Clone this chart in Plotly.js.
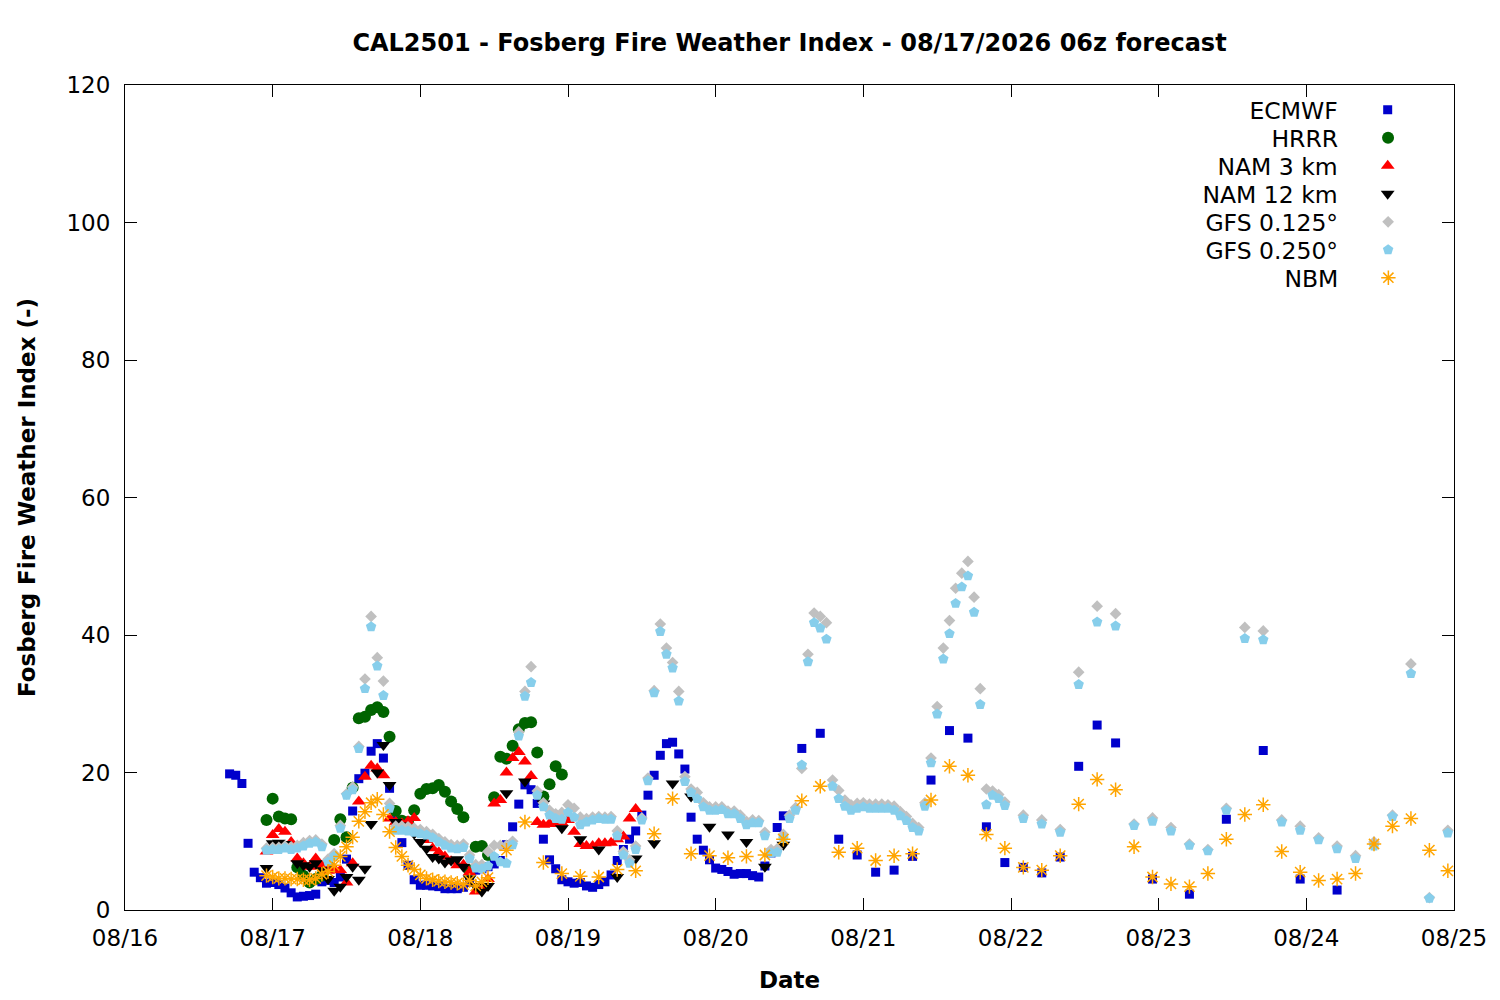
<!DOCTYPE html>
<html>
<head>
<meta charset="utf-8">
<script src="https://cdn.plot.ly/plotly-3.0.1.min.js"></script>
<style>
  body { margin: 0; background: #fff; }
  #myDiv { width: 1500px; height: 1000px; }
</style>
</head>
<body>
<div id="myDiv"></div>
<script>
// hours counted from 08/16 00:00 (local time)
var ecmwfHours = [17,18,19,20,21,22,23,24,25,26,27,28,29,30,31,32,33,34,35,36,37,38,39,40,41,42,43,44,45,46,47,
  48,49,50,51,52,53,54,55,56,57,58,59,60,61,62,63,64,65,66,67,68,69,70,71,72,73,74,75,76,77,
  78,79,80,81,82,83,84,85,86,87,88,89,90,91,92,93,94,95,96,97,98,99,100,101,102,103,104,105,106,107,
  110,113,116,119,122,125,128,131,134,137,140,143,146,149,152,155,158,161,
  167,173,179,185,191,197];
var ecmwfValues = [19.8,19.6,18.4,9.7,5.5,4.7,3.9,4.0,3.7,3.2,2.5,1.9,2.0,2.1,2.3,4.1,4.3,4.0,4.8,7.4,14.4,19.1,19.9,23.1,24.2,22.1,17.7,13.0,9.8,6.5,4.4,
  3.6,3.6,3.5,3.4,3.1,3.1,3.1,3.3,4.0,5.8,6.0,6.3,6.7,7.2,9.5,12.1,15.4,18.2,17.5,15.5,10.3,7.3,6.0,4.4,4.1,3.9,4.0,3.5,3.3,3.7,
  4.1,5.1,7.2,8.8,10.3,11.5,13.8,16.7,19.6,22.5,24.2,24.4,22.7,20.5,13.5,10.3,8.7,7.3,6.1,5.9,5.6,5.2,5.3,5.3,5.0,4.8,6.4,8.3,12.0,13.7,
  23.5,25.7,10.3,8.0,5.5,5.8,7.8,18.9,26.1,25.0,12.1,6.9,6.2,5.4,7.7,20.9,26.9,24.3,
  4.5,2.3,13.2,23.2,4.5,2.9];

var hrrrHours = [23,24,25,26,27,28,29,30,31,32,33,34,35,36,37,38,39,40,41,42,43,44,45,46,47,
  48,49,50,51,52,53,54,55,56,57,58,59,60,61,62,63,64,65,66,67,68,69,70,71];
var hrrrValues = [13.1,16.2,13.6,13.3,13.2,6.2,5.0,4.0,4.5,5.0,6.5,10.2,13.2,10.6,17.8,27.9,28.1,29.1,29.5,28.8,25.2,14.4,13.0,12.8,14.5,
  16.9,17.6,17.7,18.2,17.2,15.8,14.7,13.5,5.8,9.2,9.3,8.0,16.4,22.3,22.0,23.9,26.3,27.2,27.3,22.9,16.5,18.3,20.9,19.7];

var nam3Hours = [23,24,25,26,27,28,29,30,31,32,33,34,35,36,37,38,39,40,41,42,43,44,45,46,47,
  48,49,50,51,52,53,54,55,56,57,58,59,60,61,62,63,64,65,66,67,68,69,70,71,
  72,73,74,75,76,77,78,79,80,81,82,83];
var nam3Values = [8.5,10.9,11.8,11.4,9.9,7.5,6.8,6.3,7.5,6.4,5.7,6.0,5.8,4.0,6.8,15.8,19.4,21.0,20.6,19.6,13.3,12.8,12.6,12.9,13.4,
  11.4,10.2,9.0,8.4,7.8,7.1,6.5,6.6,5.5,2.7,3.2,4.5,15.5,16.0,20.0,22.1,23.0,21.6,19.5,12.8,12.4,12.6,12.5,12.7,
  13.1,11.4,9.6,9.3,9.3,9.7,9.7,9.8,10.3,10.7,13.3,14.7];

var nam12Hours = [23,24,25,26,27,28,29,30,31,32,33,34,35,36,37,38,39,40,41,42,43,44,45,46,47,
  48,49,50,51,52,53,54,55,56,57,58,59,
  62,65,68,71,74,77,80,83,86,89,92,95,98,101,104,107];
var nam12Values = [6.1,9.7,9.8,9.6,9.3,6.8,6.5,6.3,6.8,5.8,4.5,2.8,3.4,4.8,6.3,4.4,6.0,12.5,20.0,24.0,18.2,12.8,12.3,11.8,11.1,
  9.9,8.9,7.7,7.5,6.9,7.2,7.4,6.3,4.6,3.5,2.7,3.5,
  17.0,18.7,15.5,11.9,10.3,8.8,4.8,7.5,9.7,18.4,16.5,12.1,11.0,9.9,6.3,9.5];

var gfsHours = [23,24,25,26,27,28,29,30,31,32,33,34,35,36,37,38,39,40,41,42,43,44,45,46,47,
  48,49,50,51,52,53,54,55,56,57,58,59,60,61,62,63,64,65,66,67,68,69,70,71,
  72,73,74,75,76,77,78,79,80,81,82,83,84,85,86,87,88,89,90,91,92,93,94,95,
  96,97,98,99,100,101,102,103,104,105,106,107,108,109,110,111,112,113,114,115,116,117,118,119,
  120,121,122,123,124,125,126,127,128,129,130,131,132,133,134,135,136,137,138,139,140,141,142,143,
  146,149,152,155,158,161,164,167,170,173,176,179,182,185,188,191,194,197,200,203,206,209,212,215];
var gfs125Values = [9.0,9.1,9.1,9.3,9.2,9.4,9.8,10.1,10.2,9.6,7.4,8.2,12.3,16.9,17.9,23.8,33.6,42.7,36.7,33.3,15.5,12.2,12.2,12.1,11.9,
  11.7,11.4,11.0,10.4,9.9,9.5,9.4,9.6,8.0,6.6,6.6,8.5,9.4,9.4,9.4,10.0,25.9,31.8,35.4,17.3,15.6,14.5,14.0,14.2,
  15.3,14.8,13.5,13.3,13.5,13.6,13.5,13.6,11.5,8.5,7.3,9.3,13.4,19.2,31.9,41.6,38.1,36.0,31.8,19.4,17.6,17.1,15.6,15.0,
  15.0,15.0,14.4,14.4,13.8,12.9,13.1,13.0,11.3,8.8,8.9,11.0,13.8,14.9,20.6,37.2,43.2,42.7,41.8,18.9,17.4,16.0,15.3,15.5,
  15.6,15.4,15.4,15.4,15.3,15.1,14.3,13.6,12.6,12.0,15.6,22.1,29.6,38.1,42.1,46.8,49.0,50.7,45.5,32.2,17.6,17.3,16.8,15.7,
  13.8,13.1,11.7,34.6,44.2,43.1,12.5,13.4,12.0,9.6,8.8,14.8,41.1,40.6,13.1,12.2,10.5,9.3,7.9,9.9,13.8,35.8,1.8,11.6];
var gfs250Values = [8.7,8.8,8.8,9.0,8.8,9.0,9.3,9.7,9.9,9.2,7.0,7.8,11.9,16.7,17.5,23.5,32.2,41.2,35.5,31.2,14.8,11.6,11.6,11.5,11.3,
  11.1,10.9,10.5,9.9,9.4,9.0,8.9,9.1,7.5,6.1,6.0,6.4,7.8,7.0,6.8,9.5,25.3,31.1,33.1,16.7,15.0,13.8,13.3,13.2,
  14.2,13.5,12.4,12.8,13.1,13.3,13.2,13.2,10.8,8.0,6.8,8.8,13.1,18.8,31.6,40.5,37.2,35.2,30.4,18.7,17.1,16.2,15.0,14.5,
  14.5,14.6,14.0,14.0,13.3,12.4,12.7,12.7,10.8,8.3,8.4,10.4,13.3,14.5,21.1,36.1,41.8,41.0,39.4,18.0,16.2,15.1,14.5,14.8,
  15.0,14.8,14.8,14.8,14.8,14.5,13.7,13.0,12.0,11.5,15.1,21.4,28.5,36.5,40.2,44.6,47.0,48.6,43.3,29.9,15.3,16.7,16.2,15.2,
  13.3,12.5,11.3,32.8,41.9,41.3,12.3,12.9,11.5,9.4,8.6,14.5,39.5,39.3,12.8,11.6,10.2,8.9,7.5,9.3,13.6,34.4,1.7,11.2];

var nbmHours = [23,24,25,26,27,28,29,30,31,32,33,34,35,36,37,38,39,40,41,42,43,44,45,46,47,
  48,49,50,51,52,53,54,55,56,57,58,59,
  62,65,68,71,74,77,80,83,86,89,92,95,98,101,104,107,110,113,116,119,122,125,128,131,134,137,140,143,
  146,149,152,155,158,161,164,167,170,173,176,179,182,185,188,191,194,197,200,203,206,209,212,215];
var nbmValues = [5.0,4.8,4.6,4.6,4.5,4.5,4.4,4.4,4.6,5.2,5.6,6.5,7.8,9.2,10.6,12.9,14.3,15.6,16.1,13.9,11.4,9.1,7.8,6.5,5.9,
  5.1,4.6,4.4,4.2,4.1,4.0,3.9,3.7,4.3,3.5,4.1,4.7,
  8.7,12.8,6.9,5.3,4.9,4.8,5.9,5.7,11.1,16.2,8.2,7.9,7.6,7.8,8.0,10.3,15.9,18.0,8.4,9.0,7.2,7.9,8.2,16.0,20.9,19.6,11.0,9.0,
  6.2,5.8,7.9,15.4,19.0,17.5,9.2,4.8,3.8,3.4,5.3,10.3,13.9,15.3,8.5,5.5,4.3,4.5,5.3,9.6,12.2,13.3,8.7,5.7];

function toDates(hours) {
  return hours.map(function (h) {
    return new Date(Date.UTC(2026, 7, 16) + h * 3600000).toISOString().slice(0, 19);
  });
}

// gnuplot-like key: name on the left, symbol on the right,
// one small legend per model so the rows can be spaced like the original
function keyRow(label, y) {
  return {
    x: 0.986,
    xanchor: 'right',
    y: y,
    yanchor: 'middle',
    bgcolor: 'rgba(0,0,0,0)',
    borderwidth: 0,
    itemwidth: 74,
    font: { size: 23.5 },
    title: { text: label, side: 'left', font: { size: 23.5 } }
  };
}

var trace1 = {
  x: toDates(ecmwfHours), y: ecmwfValues, name: '', legend: 'legend',
  type: 'scatter', mode: 'markers', showlegend: true,
  marker: { symbol: 'square', size: 9, color: '#0000cc' }
};
var trace2 = {
  x: toDates(hrrrHours), y: hrrrValues, name: '', legend: 'legend2',
  type: 'scatter', mode: 'markers', showlegend: true,
  marker: { symbol: 'circle', size: 12, color: '#006400' }
};
var trace3 = {
  x: toDates(nam3Hours), y: nam3Values, name: '', legend: 'legend3',
  type: 'scatter', mode: 'markers', showlegend: true,
  marker: { symbol: 'triangle-up', size: 12, color: '#ff0000' }
};
var trace4 = {
  x: toDates(nam12Hours), y: nam12Values, name: '', legend: 'legend4',
  type: 'scatter', mode: 'markers', showlegend: true,
  marker: { symbol: 'triangle-down', size: 12, color: '#000000' }
};
var trace5 = {
  x: toDates(gfsHours), y: gfs125Values, name: '', legend: 'legend5',
  type: 'scatter', mode: 'markers', showlegend: true,
  marker: { symbol: 'diamond', size: 9, color: '#c0c0c0' }
};
var trace6 = {
  x: toDates(gfsHours), y: gfs250Values, name: '', legend: 'legend6',
  type: 'scatter', mode: 'markers', showlegend: true,
  marker: { symbol: 'pentagon', size: 11, color: '#87ceeb' }
};
var trace7 = {
  x: toDates(nbmHours), y: nbmValues, name: '', legend: 'legend7',
  type: 'scatter', mode: 'markers', showlegend: true,
  marker: { symbol: 'asterisk-open', size: 12, color: '#ffa500', line: { color: '#ffa500', width: 1.5 } }
};

var data = [trace1, trace2, trace3, trace4, trace5, trace6, trace7];

var layout = {
  width: 1500,
  height: 1000,
  margin: { l: 125, r: 46, t: 85, b: 90 },
  paper_bgcolor: '#ffffff',
  plot_bgcolor: '#ffffff',
  font: { family: 'DejaVu Sans, sans-serif', size: 23, color: '#000000' },
  title: {
    text: '<b>CAL2501 - Fosberg Fire Weather Index - 08/17/2026 06z forecast</b>',
    font: { family: 'DejaVu Sans, sans-serif', size: 24, color: '#000000' },
    xref: 'paper',
    x: 0.5,
    yref: 'container',
    y: 0.957,
    yanchor: 'middle'
  },
  xaxis: {
    type: 'date',
    range: ['2026-08-16 00:00', '2026-08-25 00:00'],
    tick0: '2026-08-16',
    dtick: 86400000,
    tickformat: '%m/%d',
    ticks: 'inside',
    ticklen: 12,
    tickcolor: '#000000',
    ticklabelstandoff: 7,
    showline: true,
    linecolor: '#000000',
    linewidth: 1,
    mirror: 'allticks',
    showgrid: false,
    zeroline: false,
    title: { text: '<b>Date</b>', font: { size: 23 }, standoff: 22 }
  },
  yaxis: {
    range: [0, 120],
    dtick: 20,
    ticks: 'inside',
    ticklen: 12,
    tickcolor: '#000000',
    ticklabelstandoff: 9,
    showline: true,
    linecolor: '#000000',
    linewidth: 1,
    mirror: 'allticks',
    showgrid: false,
    zeroline: false,
    title: { text: '<b>Fosberg Fire Weather Index (-)</b>', font: { size: 23 }, standoff: 24 }
  },
  legend: keyRow('ECMWF', 0.9697),
  legend2: keyRow('HRRR', 0.9358),
  legend3: keyRow('NAM 3 km', 0.9018),
  legend4: keyRow('NAM 12 km', 0.8679),
  legend5: keyRow('GFS 0.125°', 0.8339),
  legend6: keyRow('GFS 0.250°', 0.8000),
  legend7: keyRow('NBM', 0.7661)
};

Plotly.newPlot('myDiv', data, layout, { displayModeBar: false });
</script>
</body>
</html>
